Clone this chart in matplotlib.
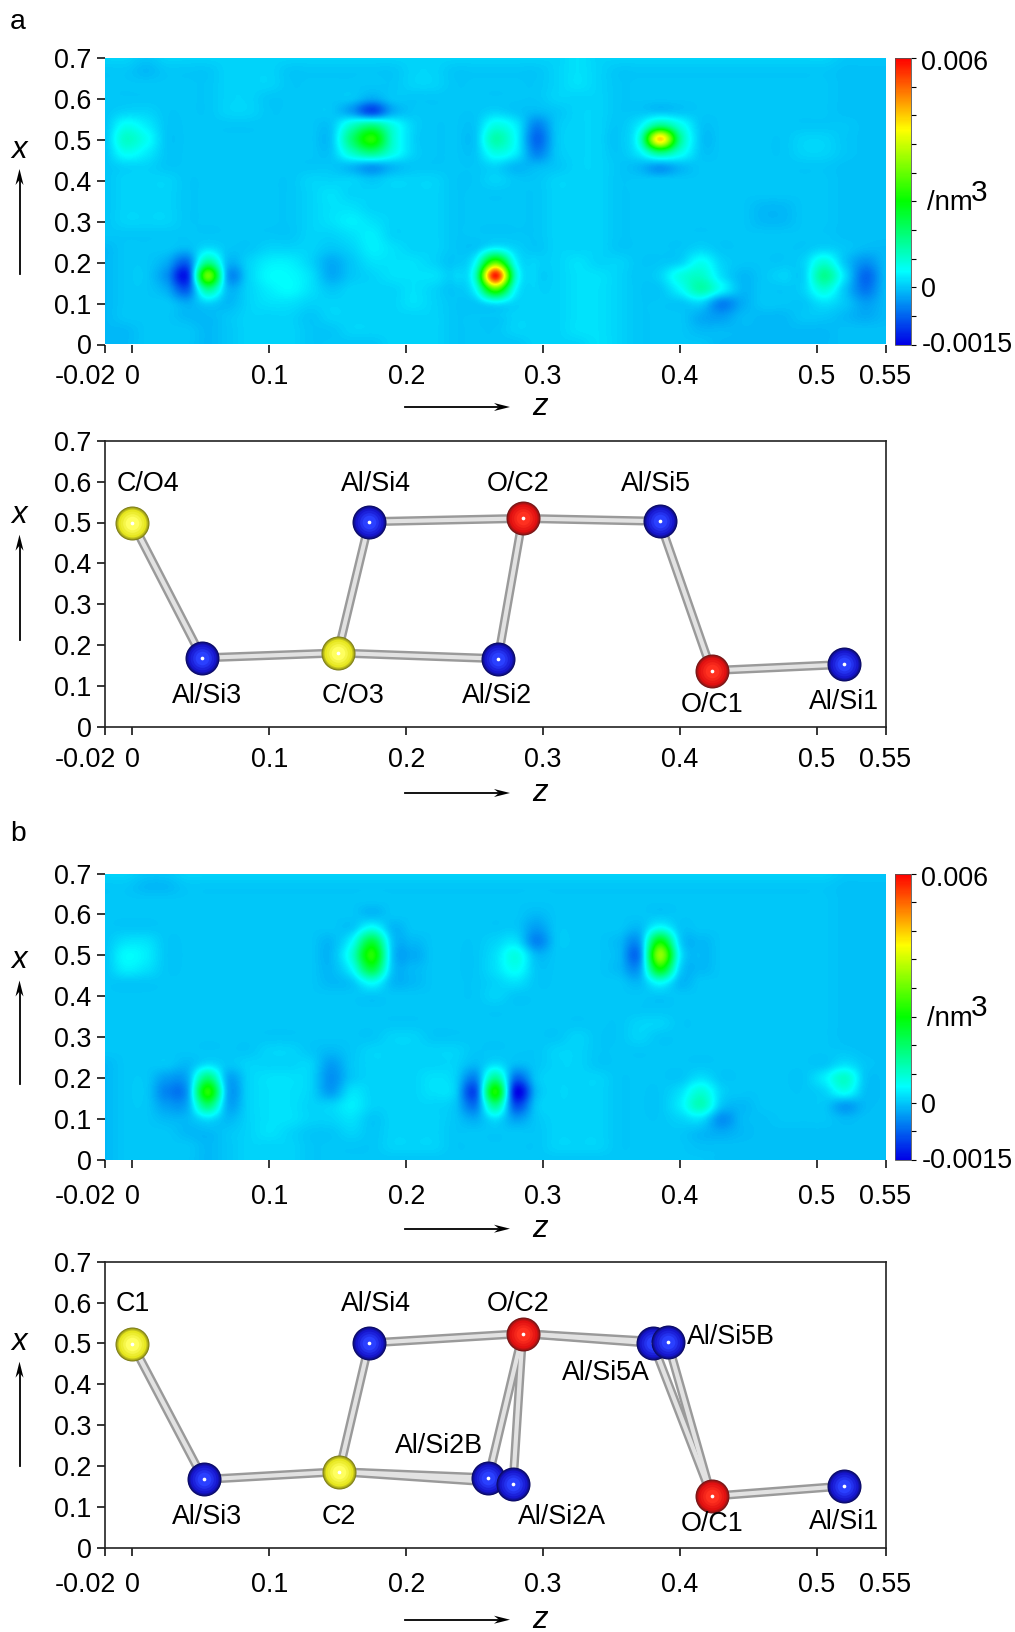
import numpy as np
import matplotlib
matplotlib.use('Agg')
import matplotlib.pyplot as plt
from matplotlib.colors import LinearSegmentedColormap, to_rgb
from matplotlib.transforms import ScaledTranslation

plt.rcParams['font.family'] = ['Liberation Sans', 'DejaVu Sans']

W, H = 1015, 1632

# density, in units of 1e-4 /nm3
# columns: z = -0.02 to 0.55 in steps of 0.015, rows: x = 0 to 0.7 in steps of 1/30
z_grid = np.linspace(-0.02, 0.55, 39)
x_grid = np.linspace(0, 0.7, 22)

map_a = [
    [-1,-1, 0, 0, 0,-1, 0, 1, 1, 1, 0, 0, 0, 0, 1, 1, 1, 0, 0, 0, 0, 1, 1, 1, 2, 1, 0, 0, 0, 0,-1,-1,-1,-1,-1,-1,-.5,-.5,-.5],
    [-1,-1, 0, 0, 0,-1, 0, 1, 1, 1, 0, 0, 1, 1, 1, 1, 1, 0, 0, 0, 1, 1, 1, 2, 2, 1, 0, 0, 0,-1,-1,-1,-1,-1,-1,-1,-.5,-.5,-.5],
    [-1, 0, 0, 0,-1,-1, 0, 1, 1, 1, 0, 1, 1, 1, 1, 1, 1, 0, 0, 0, 1, 1, 1, 2, 2, 1, 0, 0, 0,-2,-3,-1,-1,-1, 0, 0,-1,-2,-1],
    [-1, 0, 0, 0,-2, 1,-1, 1, 2, 2, 1, 1, 1, 1, 1, 2, 1, 0, 0, 3, 1, 1, 1, 2, 2, 1, 0, 0, 0, 1,-5,-2, 0, 0, 0, 2, 0,-3,-1],
    [-1, 0, 0,-2,-8,12,-1, 1, 3, 4, 2, 0, 1, 1, 1, 2, 1, 0, 4,28, 4, 1, 1, 2, 2, 1, 0, 0, 4,10, 4,-1, 0, 0, 1, 7, 0,-6,-1],
    [-1, 0, 0,-4,-12,30,-3, 1, 4, 4, 2,-2, 0, 1, 2, 2, 2, 1, 8,58, 8, 1, 1, 2, 2, 1, 0, 1, 6, 8, 2,-1, 0, 1, 1,12, 2,-7,-1],
    [-1, 0, 0,-2,-7,12,-1, 1, 3, 3, 1,-2, 0, 2, 2, 2, 1, 0, 4,28, 4, 1, 1, 2, 1, 1, 0, 0, 1, 5, 1, 0, 0, 0, 1, 7, 0,-4,-1],
    [-1, 0, 0, 0,-1, 2, 0, 0, 1, 1, 1, 0, 1, 3, 2, 1, 1, 0, 0, 4, 1, 0, 1, 1, 1, 0, 0, 0, 0, 1, 0, 0, 0, 0, 0, 1, 0,-1,-1],
    [ 0, 0, 0, 0, 0, 0, 0, 0, 0, 0, 1, 1, 2, 3, 1, 1, 1, 0, 0, 0, 0, 0, 1, 1, 1, 0, 0, 0, 0, 0, 0, 0, 0, 0, 0, 0,-.5,-.5,-.5],
    [ 0, 1, 1, 1, 0, 0, 0, 0, 0, 0, 1, 2, 3, 2, 1, 1, 1, 0, 0, 0, 0, 0, 1, 1, 1, 0, 0, 0, 0, 0, 0, 0,-1,-1, 0, 0,-.5,-.5,-.5],
    [ 0, 1, 1, 1, 0, 0, 0, 0, 0, 0, 1, 2, 2, 1, 1, 1, 1, 0, 0, 0, 0, 0, 1, 1, 1, 0, 0, 0, 0, 0, 0, 0,-1,-1, 0, 0,-.5,-.5,-.5],
    [ 0, 1, 1, 1, 0, 0, 0, 0, 0, 0, 1, 2, 1, 1, 1, 1, 1, 0, 0, 0, 0, 0, 1, 1, 1, 0, 0, 0, 0, 0, 0, 0, 0, 0, 0, 0,-.5,-.5,-.5],
    [ 0, 1, 1, 1, 0, 0, 0, 0, 0, 0, 1, 1, 1, 0, 1, 1, 1, 0, 0, 1, 0, 0, 1, 1, 1, 0, 0, 0, 0, 0, 0, 0, 0, 0, 0, 0,-.5,-.5,-.5],
    [ 0, 1, 1, 0, 0, 0, 0, 0, 0, 0, 0, 0,-1,-3,-1, 0, 0, 0, 0, 1,-1,-1, 0, 1, 1, 0,-1,-3,-1, 0, 0, 0, 0, 0, 0, 0,-.5,-.5,-.5],
    [ 0, 5, 3, 0, 0, 0, 0, 0, 0, 0, 0, 0, 8,13, 6, 1, 0, 0, 0, 6, 3,-5, 0, 1, 1, 0, 3,13, 6, 0, 0, 0, 0, 0, 1, 1, 0,-.5,-.5],
    [ 0, 8, 5, 0, 0, 0, 0, 0, 0, 0, 0, 0,14,25, 8, 1, 0, 0, 0,10, 4,-7, 0, 1, 1, 0, 7,44,12, 0, 0, 0, 0, 0, 1, 1, 0,-.5,-.5],
    [ 0, 5, 3, 0, 0, 0, 0, 0, 0, 0, 0, 0, 8,13, 6, 1, 0, 0, 0, 6, 3,-5, 0, 1, 1, 0, 3,13, 6, 0, 0, 0, 0, 0, 0, 0, 0,-.5,-.5],
    [ 0, 1, 1, 0, 0, 0, 1, 1, 0, 0, 0, 0,-3,-9,-2, 0, 0, 0, 0, 1, 0,-1, 0, 1, 1, 0, 0, 0, 0, 0, 0, 0, 0, 0, 0, 0,-.5,-.5,-.5],
    [ 0, 0, 0, 0, 0, 0, 1, 1, 0, 0, 0, 0, 0,-2, 0, 0, 0, 0, 0, 0, 0, 0, 1, 1, 1, 0, 0, 0, 0, 0, 0, 0, 0, 0, 0, 0,-.5,-.5,-.5],
    [ 0, 0, 0, 0, 0, 0, 1, 1, 1, 0, 0, 0, 0, 0, 0, 1, 1, 0, 0, 0, 0, 0, 1, 2, 1, 0, 0, 0, 0, 0, 0, 0, 0, 0, 0, 0,-.5,-.5,-.5],
    [ 0, 0,-1, 0, 0, 0, 1, 1, 1, 0, 0, 0, 0, 0, 0, 1, 1, 0, 0, 0, 0, 0, 1, 2, 1, 0, 0, 0, 0, 0, 0, 0, 0, 0, 0, 0,-.5,-.5,-.5],
    [ 1, 1, 0, 1, 1, 1, 1, 1, 1, 1, 1, 1, 1, 1, 1, 1, 1, 1, 1, 1, 1, 1, 1, 2, 1, 1, 1, 1, 1, 1, 1, 1, 1, 1, 1, 1, 0, 0, 0],
]

map_b = [
    [-1, 0, 0, 0, 0,-1, 0, 1, 1, 1, 0, 0, 0, 0, 0, 0, 0, 0, 0, 0, 0, 0, 0, 0, 0, 0, 0, 0, 0, 0,-.5,-.5,-.5,-.5,-.5,-.5,-.5,-.5,-.5],
    [-1, 0, 0, 0, 0,-1, 0, 1, 1, 1, 0, 0, 0, 0, 1, 1, 1, 0, 0, 0, 0, 0, 1, 1, 1, 0, 0, 0, 0,-.5,-.5,-.5,-.5,-.5,-.5,-.5,-.5,-.5,-.5],
    [-1, 0, 0, 0,-1,-1, 0, 1, 2, 1, 0, 0, 1, 0, 1, 1, 1, 0, 0, 0, 0, 0, 1, 1, 1, 0, 0, 0, 0,-1,-2,-1,-.5,-.5,-.5,-.5,-.5,-.5,-.5],
    [-1, 0, 0,-1,-1, 2,-1, 1, 2, 2, 1, 1, 2, 0, 1, 1, 1, 0,-2, 2,-3, 0, 1, 1, 1, 0, 0, 0, 1, 2,-4,-1,-.5, 0, 0, 0,-1,-.5,-.5],
    [-1, 0, 0,-3,-2,14,-2, 1, 2, 2, 1, 1, 3, 1, 1, 1, 1, 0,-6,12,-9, 0, 1, 1, 1, 0, 0, 0, 3, 9, 0,-1, 0, 0, 0, 0,-3,-1,-.5],
    [-1, 0, 0,-5,-3,25,-2, 1, 2, 2, 1,-3, 2, 1, 1, 1, 2, 1,-9,24,-14,-1, 1, 1, 1, 0, 0, 0, 2, 7, 1, 0, 0, 0, 0, 1, 5,-.5,-.5],
    [-1, 0, 0,-3,-2,14,-2, 1, 2, 2, 1,-4, 0, 1, 1, 1, 2, 1,-5,12,-7, 0, 1, 1, 1, 0, 0, 0, 0, 2, 0, 0, 0, 0, 0, 3, 8, 0,-.5],
    [-1, 0, 0, 0,-1, 2, 0, 1, 1, 1, 1,-3, 0, 1, 1, 1, 1, 1,-1, 2,-1, 0, 1, 1, 0, 0, 0, 0, 0, 0, 0, 0, 0, 0, 0, 0, 2, 0,-.5],
    [ 0, 0, 0, 0, 0, 0, 0, 0, 1, 1, 0,-1, 0, 1, 1, 1, 1, 1, 0, 0, 0, 0, 1, 1, 0, 0, 0, 0, 0, 0, 0, 0, 0, 0, 0, 0, 0,-.5,-.5],
    [ 0, 0, 0, 0, 0, 0, 0, 0, 0, 0, 0, 0, 0, 0, 1, 1, 0, 0, 0, 0, 0, 0, 0, 1, 0, 0, 1, 0, 0, 0, 0, 0, 0, 0, 0, 0,-.5,-.5,-.5],
    [ 0, 0, 0, 0, 0, 0, 0, 0, 0, 0, 0, 0, 0, 0, 0, 0, 0, 0, 0, 0, 0, 0, 0, 0, 0, 0, 1, 1, 0, 0, 0, 0, 0, 0, 0, 0,-.5,-.5,-.5],
    [ 0, 0, 0, 0, 0, 0, 0, 0, 0, 0, 0, 0, 0, 0, 0, 0, 0, 0, 0, 0, 0, 0, 0, 0, 0, 0, 0, 0, 0, 0, 0, 0, 0, 0, 0, 0,-.5,-.5,-.5],
    [ 0, 0, 0, 0, 0, 0, 0, 0, 0, 0, 0, 0, 0, 0, 0, 0, 0, 0, 0, 1, 0, 0, 0, 0, 0, 0, 0, 0, 0, 0, 0, 0, 0, 0, 0, 0,-.5,-.5,-.5],
    [ 0, 0, 0, 0, 0, 0, 0, 0, 0, 0, 0,-1, 0, 5,-1,-1, 0, 0, 0, 1, 2, 0, 0, 0, 0, 0,-1, 5,-1, 0, 0, 0, 0, 0, 0, 0,-.5,-.5,-.5],
    [ 0, 3, 2, 0, 0, 0, 0, 0, 0, 0, 0,-1, 4,18, 0,-1, 0, 0, 0, 2, 5, 0, 0, 0, 0,-1,-3,22, 1,-1, 0, 0, 0, 0, 0, 0,-.5,-.5,-.5],
    [ 0, 4, 3, 0, 0, 0, 0, 0, 0, 0, 0,-1, 7,25, 0,-2, 0, 0, 0, 2, 6,-1, 0, 0, 0,-1,-5,33, 3,-1, 0, 0, 0, 0, 0, 0,-.5,-.5,-.5],
    [ 0, 2, 2, 0, 0, 0, 0, 0, 0, 0, 0,-1, 4,18, 0,-1, 0, 0, 0, 1, 2,-5, 0, 0, 0,-1,-3,22, 1,-1, 0, 0, 0, 0, 0, 0,-.5,-.5,-.5],
    [ 0, 0, 0, 0, 0, 0, 0, 0, 0, 0, 0, 0, 0, 5,-1, 0, 0, 0, 0, 0, 0,-3, 0, 0, 0, 0,-1, 5, 0, 0, 0, 0, 0, 0, 0, 0,-.5,-.5,-.5],
    [ 0, 0, 0, 0, 0, 0, 0, 0, 0, 0, 0, 0, 0,-1, 0, 0, 0, 0, 0, 0, 0,-1, 0, 0, 0, 0, 0, 0, 0, 0, 0, 0, 0, 0, 0, 0,-.5,-.5,-.5],
    [ 0, 0, 0, 0, 0, 0, 0, 0, 0, 0, 0, 0, 0, 0, 0, 0, 0, 0, 0, 0, 0, 0, 0, 0, 0, 0, 0, 0, 0, 0, 0, 0, 0, 0, 0, 0,-.5,-.5,-.5],
    [ 0, 0,-1,-1, 0, 0, 0, 0, 0, 0, 0, 0, 0, 0, 0, 0, 0, 0, 0, 0, 0, 0, 0, 0, 0, 0, 0, 0, 0, 0, 0, 0, 0, 0, 0, 0,-.5,-.5,-.5],
    [ 1, 1, 0, 0, 1, 1, 1, 1, 1, 1, 1, 1, 1, 1, 1, 1, 1, 1, 1, 1, 1, 1, 1, 1, 1, 1, 1, 1, 1, 1, 1, 1, 1, 1, 1, 1, 0, 0, 0],
]

# atoms in the lower plots
atoms_a = ['C/O4', 'Al/Si3', 'C/O3', 'Al/Si2', 'Al/Si4', 'O/C2', 'Al/Si5', 'O/C1', 'Al/Si1']
atom_z_a = [0.0, 0.051, 0.150, 0.267, 0.173, 0.285, 0.385, 0.423, 0.520]
atom_x_a = [0.500, 0.169, 0.181, 0.167, 0.502, 0.510, 0.503, 0.138, 0.153]
kind_a = ['C', 'Al', 'C', 'Al', 'Al', 'O', 'Al', 'O', 'Al']
bonds_a = [(0, 1), (1, 2), (2, 3), (2, 4), (3, 5), (4, 5), (5, 6), (6, 7), (7, 8)]
label_z_a = [0.011, 0.0544, 0.161, 0.2665, 0.178, 0.282, 0.382, 0.4236, 0.5197]
label_x_a = [0.593, 0.075, 0.075, 0.075, 0.593, 0.593, 0.593, 0.055, 0.062]

atoms_b = ['C1', 'Al/Si3', 'C2', 'Al/Si2B', 'Al/Si2A', 'Al/Si4', 'O/C2', 'Al/Si5A', 'Al/Si5B', 'O/C1', 'Al/Si1']
atom_z_b = [0.0, 0.052, 0.151, 0.260, 0.278, 0.173, 0.285, 0.380, 0.391, 0.423, 0.520]
atom_x_b = [0.498, 0.167, 0.186, 0.171, 0.157, 0.501, 0.524, 0.500, 0.503, 0.126, 0.151]
kind_b = ['C', 'Al', 'C', 'Al', 'Al', 'Al', 'O', 'Al', 'Al', 'O', 'Al']
bonds_b = [(0, 1), (1, 2), (2, 3), (2, 4), (2, 5), (3, 6), (4, 6), (5, 6), (6, 7), (6, 8), (7, 9), (8, 9), (9, 10)]
label_z_b = [0.0, 0.0544, 0.1505, 0.224, 0.314, 0.178, 0.282, 0.346, 0.437, 0.4236, 0.5197]
label_x_b = [0.596, 0.076, 0.076, 0.249, 0.076, 0.596, 0.596, 0.428, 0.516, 0.058, 0.062]

x_ticks = [0, 0.1, 0.2, 0.3, 0.4, 0.5, 0.6, 0.7]
x_tick_labels = ['0', '0.1', '0.2', '0.3', '0.4', '0.5', '0.6', '0.7']
z_ticks = [-0.02, 0, 0.1, 0.2, 0.3, 0.4, 0.5, 0.55]
z_tick_labels = ['-0.02', '0', '0.1', '0.2', '0.3', '0.4', '0.5', '0.55']
cbar_ticks = [-0.0015, -0.00075, 0, 0.00075, 0.0015, 0.00225, 0.003, 0.00375, 0.0045, 0.00525, 0.006]
cbar_labels = ['-0.0015', '', '0', '', '', '', '', '', '', '', '0.006']

rainbow = LinearSegmentedColormap.from_list('rainbow4', [(0, '#0000e6'), (0.255, '#00ffff'), (0.5, '#00ff00'),
                                                         (0.75, '#ffff00'), (1, '#ff0000')])
body = {'Al': '#1616cc', 'O': '#e01010', 'C': '#e6e61e'}
rim = {'Al': '#0a0a60', 'O': '#701818', 'C': '#7a7a18'}
core = {'Al': '#2a40ff', 'O': '#ff3020', 'C': '#ffff60'}
TS = 19.4


def box(left, top, right, bottom):
    return [left / W, 1 - bottom / H, (right - left) / W, (bottom - top) / H]


def shift(label, dx, dy):
    label.set_transform(label.get_transform() + ScaledTranslation(dx / 100, dy / 100, fig.dpi_scale_trans))


def setup_axes(ax, pad):
    ax.set_xlim(-0.02, 0.55)
    ax.set_ylim(0, 0.7)
    ax.set_xticks(z_ticks, z_tick_labels)
    ax.set_yticks(x_ticks, x_tick_labels)
    ax.tick_params(axis='both', length=6, width=1.1, labelsize=TS)
    ax.tick_params(axis='x', pad=pad)
    ax.tick_params(axis='y', pad=3.8)
    # the -0.02 label sits left of its tick so it clears the 0
    shift(ax.get_xticklabels()[0], -20, 0)


def decorate(top, bottom, x_text, tail, head, z_y):
    fig.text(19.5 / W, 1 - (top + x_text) / H, 'x', fontsize=TS + 3, style='italic', ha='center', va='center')
    fig.add_artist(plt.Line2D([19.5 / W] * 2, [1 - (top + tail) / H, 1 - (top + head + 8) / H], color='black', lw=1.3))
    fig.add_artist(plt.Polygon([[19.5 / W, 1 - (top + head) / H], [15.5 / W, 1 - (top + head + 16) / H],
                                [19.5 / W, 1 - (top + head + 11) / H], [23.5 / W, 1 - (top + head + 16) / H]],
                               closed=True, color='black', lw=0))
    y = 1 - (bottom + z_y) / H
    fig.add_artist(plt.Line2D([404.5 / W, 498 / W], [y, y], color='black', lw=1.3))
    fig.add_artist(plt.Polygon([[510 / W, y], [494 / W, y + 4 / H], [499 / W, y], [494 / W, y - 4 / H]],
                               closed=True, color='black', lw=0))
    fig.text(540 / W, y, 'z', fontsize=TS + 3, style='italic', ha='center', va='center')


def draw_map(values, top, bottom, pad):
    ax = fig.add_axes(box(105, top, 885.5, bottom))
    dz = z_grid[1] - z_grid[0]
    dx = x_grid[1] - x_grid[0]
    im = ax.imshow(np.array(values) / 1e4, origin='lower', aspect='auto', cmap=rainbow, vmin=-0.0015, vmax=0.006,
                   interpolation='catrom', interpolation_stage='data',
                   extent=[z_grid[0] - dz / 2, z_grid[-1] + dz / 2, x_grid[0] - dx / 2, x_grid[-1] + dx / 2])
    setup_axes(ax, pad)
    for s in ax.spines.values():
        s.set_visible(False)
    cax = fig.add_axes(box(894.5, top, 911, bottom))
    cb = fig.colorbar(im, cax=cax)
    cb.set_ticks(cbar_ticks, labels=cbar_labels)
    cb.minorticks_off()
    cb.ax.tick_params(length=3.5, width=0.8, labelsize=TS, pad=4)
    cb.outline.set_linewidth(0.6)
    cb.outline.set_edgecolor('#555555')
    labels = cb.ax.get_yticklabels()
    shift(labels[-1], 0, -2)
    shift(labels[0], 0, 2)
    fig.text(927 / W, 1 - (top + 152) / H, '/nm', fontsize=TS + 0.4, va='baseline')
    fig.text(971 / W, 1 - (top + 143) / H, '3', fontsize=TS + 2, va='baseline')


def draw_atoms(names, zs, xs, kinds, bonds, lz, lx, top, bottom, pad):
    ax = fig.add_axes(box(105, top, 885.5, bottom))
    setup_axes(ax, pad)
    for s in ax.spines.values():
        s.set_linewidth(1.2)
        s.set_color('#222222')
    for a, b in bonds:
        ax.plot([zs[a], zs[b]], [xs[a], xs[b]], color='#9a9a9a', lw=6.5, solid_capstyle='butt', zorder=2)
        ax.plot([zs[a], zs[b]], [xs[a], xs[b]], color='#e2e2e2', lw=3, solid_capstyle='butt', zorder=3)
    for i in range(len(names)):
        k = kinds[i]
        # stacked discs give the ball its shading
        for n, f in enumerate([1.0, 0.96, 0.92, 0.88, 0.82, 0.7, 0.55, 0.4]):
            if f > 0.8:
                t = (1.0 - f) / 0.18
                c = np.array(to_rgb(rim[k])) * (1 - t) + np.array(to_rgb(body[k])) * t
            else:
                t = (0.82 - f) / 0.42
                c = np.array(to_rgb(body[k])) * (1 - t) + np.array(to_rgb(core[k])) * t
            ax.scatter(zs[i], xs[i], s=600 * f ** 2, color=[c], lw=0, zorder=4 + i)
        ax.scatter(zs[i], xs[i], s=7, color='white', lw=0, zorder=4 + i)
        ax.text(lz[i], lx[i], names[i], fontsize=TS, ha='center', va='center', zorder=30)


fig = plt.figure(figsize=(W / 100, H / 100), dpi=100)

fig.text(18 / W, 1 - 22 / H, 'a', fontsize=TS + 1, ha='center', va='center')
draw_map(map_a, 58, 344.5, 8)
decorate(58, 344.5, 91.5, 215.6, 111, 62.5)
draw_atoms(atoms_a, atom_z_a, atom_x_a, kind_a, bonds_a, label_z_a, label_x_a, 440.7, 727, 8.5)
decorate(440.7, 727, 74, 199, 94, 66)

fig.text(18 / W, 1 - 834 / H, 'b', fontsize=TS + 1, ha='center', va='center')
draw_map(map_b, 873.5, 1160, 11)
decorate(873.5, 1160, 86, 210, 107, 68.7)
draw_atoms(atoms_b, atom_z_b, atom_x_b, kind_b, bonds_b, label_z_b, label_x_b, 1261.7, 1547.7, 11.5)
decorate(1261.7, 1547.7, 80, 204, 100, 72)

fig.savefig('out.png', dpi=100)
